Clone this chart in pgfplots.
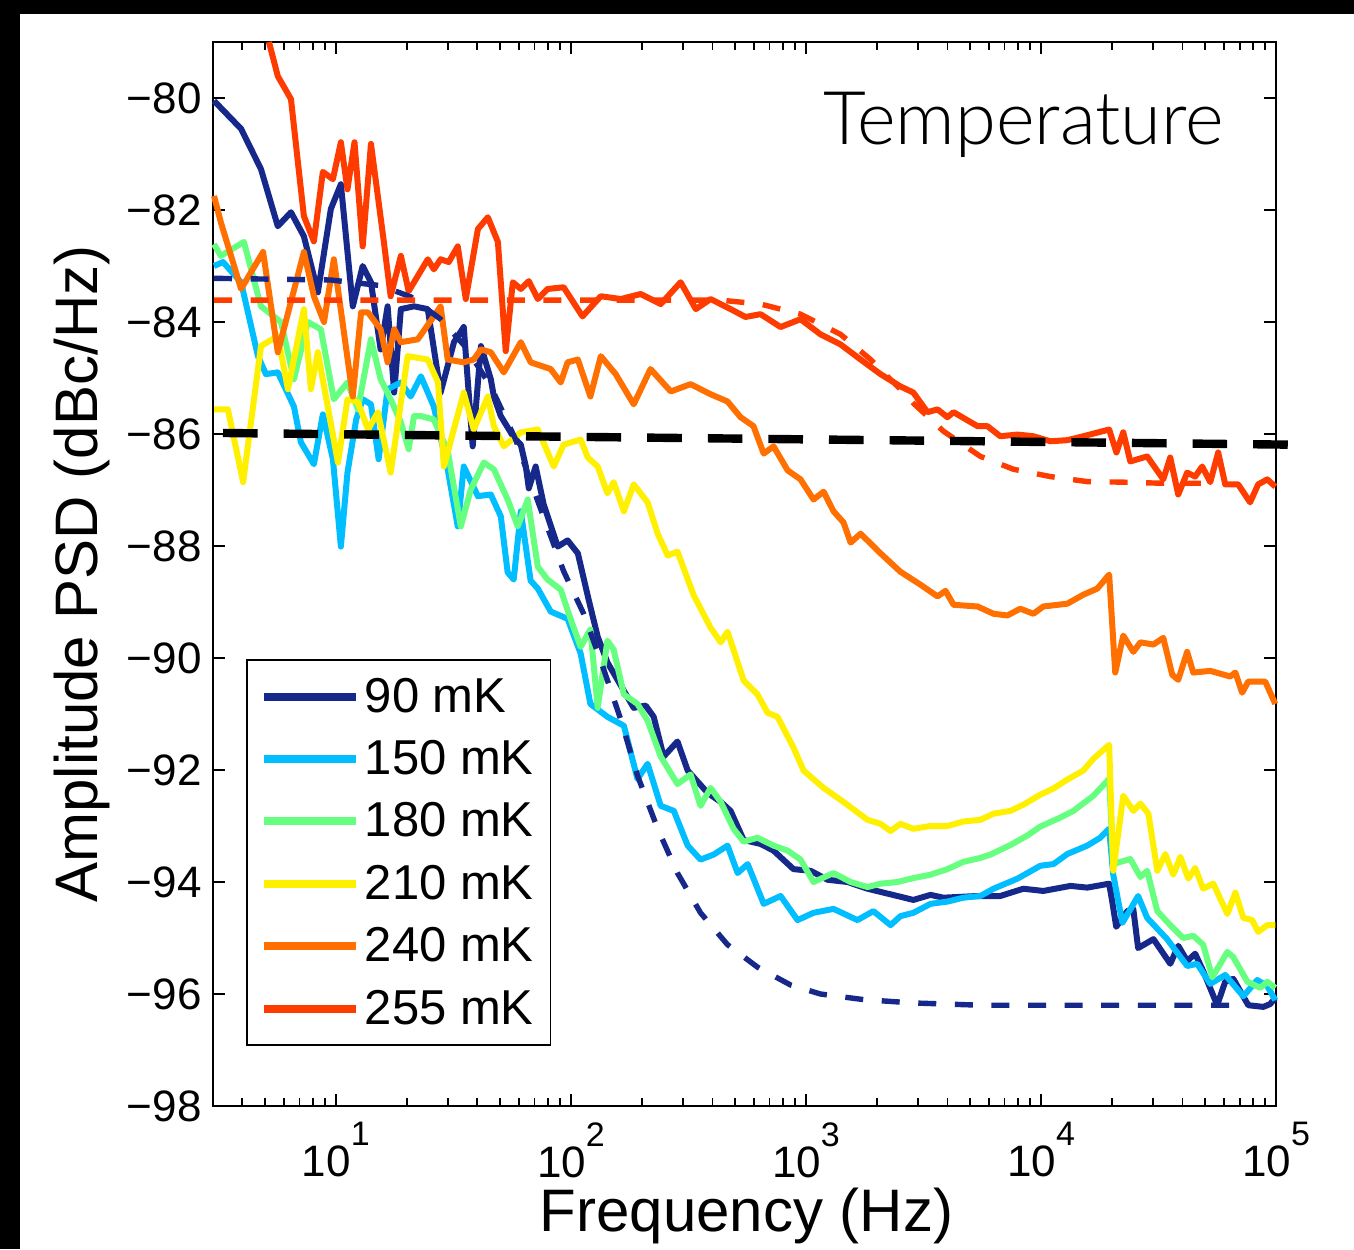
\documentclass[border=0pt]{standalone}
\usepackage{pgfplots}
\pgfplotsset{compat=1.18}
\usepackage{fontspec}
\setmainfont{Liberation Sans}
\IfFontExistsTF{Lato Light}{\newfontfamily\latofont{Lato Light}}{\newfontfamily\latofont{Lato}}
\definecolor{cA}{RGB}{22,40,138}
\definecolor{cB}{RGB}{0,190,255}
\definecolor{cC}{RGB}{102,255,128}
\definecolor{cD}{RGB}{255,240,0}
\definecolor{cE}{RGB}{255,112,0}
\definecolor{cF}{RGB}{255,60,0}
\begin{document}
\begin{tikzpicture}
\useasboundingbox (0,0) rectangle (677pt,624.5pt);
\fill[black] (0,0) rectangle (677pt,624.5pt);
\fill[white] (10pt,0) rectangle (677pt,617.5pt);
\begin{axis}[
  at={(106.5pt,71.5pt)}, anchor=south west,
  scale only axis, width=531.5pt, height=532pt,
  xmode=log, xmin=3, xmax=100000, ymin=-98, ymax=-79,
  clip=false,
  xtick={10,100,1000,10000,100000},
  minor xtick={4,5,6,7,8,9,20,30,40,50,60,70,80,90,200,300,400,500,600,700,800,900,2000,3000,4000,5000,6000,7000,8000,9000,20000,30000,40000,50000,60000,70000,80000,90000},
  xticklabels={10\raisebox{15.5pt}{\fontsize{17}{17}\selectfont 1},10\raisebox{15.5pt}{\fontsize{17}{17}\selectfont 2},10\raisebox{15.5pt}{\fontsize{17}{17}\selectfont 3},10\raisebox{15.5pt}{\fontsize{17}{17}\selectfont 4},10\raisebox{15.5pt}{\fontsize{17}{17}\selectfont 5}},
  ytick={-98,-96,-94,-92,-90,-88,-86,-84,-82,-80},
  yticklabels={−98,−96,−94,−92,−90,−88,−86,−84,−82,−80},
  tick align=inside,
  major tick length=6pt, minor tick length=4pt,
  every tick/.style={black, line width=0.9pt},
  axis line style={line width=1pt},
  tick label style={font=\fontsize{22}{26}\selectfont},
  xticklabel style={inner sep=0pt, anchor=north, yshift=-8pt},
  yticklabel style={inner sep=0pt, anchor=east, xshift=-5.5pt},
  label style={font=\fontsize{30}{36}\selectfont},
  xlabel={Frequency (Hz)},
  ylabel={Amplitude PSD (dBc/Hz)},
  xlabel style={at={(axis description cs:0.502,-0.1184)}, anchor=base, inner sep=0pt},
  ylabel style={at={(axis description cs:-0.109,0.5)}, anchor=base, inner sep=0pt},
  legend style={at={(axis description cs:0.031,0.0564)}, anchor=south west, draw=black, line width=0.8pt, fill=white,
    inner xsep=6.5pt, inner ysep=7pt, font=\fontsize{24.5}{29}\selectfont, row sep=8.6pt,
    nodes={inner sep=2pt}, /tikz/every odd column/.append style={column sep=0.5pt}},
  legend cell align=left,
  legend image code/.code={\draw[#1, line width=4pt] (0pt,0pt) -- (46pt,0pt);},
  every axis plot/.append style={line join=round},
]
\addplot[cA, line width=3pt] coordinates {(3.03,-80.05) (3.95,-80.55) (4.80,-81.27) (5.66,-82.29) (6.44,-82.04) (7.31,-82.47) (8.38,-83.47) (9.52,-81.98) (10.5,-81.54) (11.8,-83.72) (13.0,-83.00) (14.1,-83.29) (15.5,-84.49) (16.6,-83.72) (17.7,-85.26) (18.9,-83.77) (21.5,-83.72) (24.6,-83.77) (27.9,-85.26) (31.8,-84.36) (35.0,-84.09) (38.2,-86.22) (41.4,-84.43) (45.6,-85.02) (47.0,-85.33) (50.3,-85.68) (57.1,-86.06) (61.2,-86.19) (64.3,-86.58) (66.2,-86.97) (70.8,-86.58) (76.6,-87.26) (87.9,-88.01) (96.8,-87.90) (107,-88.13) (119,-88.96) (130,-89.62) (143,-90.08) (163,-90.49) (185,-90.89) (208,-90.85) (225,-91.05) (248,-91.76) (284,-91.49) (314,-92.01) (382,-92.41) (434,-92.57) (478,-92.73) (543,-93.25) (641,-93.32) (728,-93.44) (885,-93.77) (1047,-93.80) (1236,-93.96) (1503,-94.00) (1828,-94.12) (2449,-94.25) (2864,-94.32) (3388,-94.23) (3846,-94.28) (5370,-94.25) (6714,-94.25) (8414,-94.12) (10230,-94.16) (13340,-94.07) (15740,-94.10) (19500,-94.03) (20100,-94.35) (20900,-94.80) (23300,-94.52) (24700,-94.48) (25900,-95.18) (30100,-95.02) (35500,-95.46) (38400,-95.14) (41900,-95.41) (45300,-95.28) (49000,-95.59) (56200,-96.20) (60800,-95.78) (65800,-95.73) (76200,-96.20) (88300,-96.23) (94400,-96.18) (99300,-96.07)};
\addplot[cB, line width=3pt] coordinates {(3.03,-83.00) (3.31,-82.93) (3.95,-83.29) (4.66,-84.61) (5.04,-84.93) (5.66,-84.90) (6.63,-85.51) (7.10,-86.15) (8.06,-86.54) (8.80,-85.65) (9.71,-86.45) (10.5,-88.01) (11.2,-86.69) (12.2,-85.74) (13.0,-85.38) (14.1,-85.47) (15.2,-86.45) (16.6,-85.20) (18.9,-85.08) (20.8,-85.33) (23.0,-84.97) (26.1,-85.51) (29.9,-86.63) (33.0,-87.65) (35.0,-86.58) (40.2,-87.11) (45.6,-87.08) (50.3,-87.47) (53.8,-88.47) (57.1,-88.60) (61.2,-87.38) (67.4,-88.62) (72.3,-88.76) (82.0,-89.17) (96.8,-89.30) (110,-89.92) (121,-90.82) (143,-91.05) (168,-91.21) (192,-92.16) (212,-91.89) (241,-92.64) (274,-92.73) (314,-93.35) (356,-93.60) (405,-93.51) (464,-93.35) (512,-93.84) (565,-93.68) (661,-94.39) (780,-94.25) (921,-94.68) (1077,-94.55) (1310,-94.48) (1656,-94.68) (1936,-94.52) (2291,-94.77) (2523,-94.61) (2864,-94.55) (3388,-94.39) (3999,-94.35) (4677,-94.28) (5521,-94.25) (6281,-94.12) (7943,-93.94) (9938,-93.71) (11300,-93.68) (12950,-93.50) (15740,-93.35) (17870,-93.21) (19500,-93.05) (20300,-93.87) (22200,-94.73) (25900,-94.25) (28300,-94.64) (34400,-95.02) (41900,-95.50) (46200,-95.46) (52500,-95.82) (60800,-95.66) (72600,-96.04) (83200,-95.75) (91800,-95.86) (99300,-96.11)};
\addplot[cC, line width=3pt] coordinates {(3.03,-82.61) (3.24,-82.82) (4.06,-82.57) (4.80,-83.72) (5.84,-84.00) (6.63,-85.02) (7.60,-84.00) (8.63,-84.13) (9.80,-85.38) (11.2,-85.08) (12.4,-85.56) (14.1,-84.31) (15.5,-85.02) (17.1,-85.38) (18.9,-85.79) (20.4,-86.27) (21.5,-85.68) (23.0,-85.68) (26.1,-85.74) (29.9,-86.30) (34.0,-87.65) (37.5,-86.99) (42.6,-86.51) (47.0,-86.63) (53.8,-87.17) (59.4,-87.65) (65.5,-87.17) (72.3,-88.37) (79.6,-88.60) (90.5,-88.78) (99.8,-89.31) (110,-89.80) (121,-89.49) (130,-90.89) (143,-89.69) (152,-89.85) (168,-90.65) (192,-90.82) (212,-91.12) (241,-91.76) (284,-92.25) (323,-92.08) (356,-92.64) (393,-92.32) (434,-92.57) (492,-93.05) (543,-93.28) (622,-93.21) (728,-93.35) (836,-93.44) (948,-93.60) (1077,-94.00) (1310,-93.84) (1549,-94.00) (1828,-94.09) (2075,-94.03) (2449,-94.00) (2864,-93.93) (3388,-93.87) (3999,-93.77) (4677,-93.64) (5521,-93.57) (6095,-93.51) (7413,-93.34) (8750,-93.17) (9938,-93.01) (12080,-92.85) (13740,-92.73) (16710,-92.46) (19500,-92.16) (20300,-93.68) (21780,-93.64) (23990,-93.59) (26490,-93.91) (28300,-93.80) (31260,-94.52) (35480,-94.77) (40270,-95.00) (44450,-94.96) (48980,-95.12) (53580,-95.70) (62090,-95.25) (65770,-95.34) (75510,-95.78) (85740,-95.89) (91800,-95.78) (99300,-95.89)};
\addplot[cD, line width=3pt] coordinates {(3.03,-85.56) (3.47,-85.56) (4.03,-86.86) (4.80,-84.43) (5.66,-84.25) (6.25,-85.20) (7.31,-83.77) (7.83,-85.20) (8.38,-84.54) (10.2,-86.51) (11.2,-85.38) (12.4,-85.43) (13.7,-85.92) (15.1,-85.61) (17.1,-86.69) (20.2,-84.61) (24.6,-84.67) (27.2,-85.08) (28.8,-86.58) (35.0,-85.26) (38.6,-85.92) (44.3,-85.33) (47.0,-85.86) (51.8,-86.22) (61.2,-85.97) (72.3,-85.92) (84.5,-86.58) (93.1,-86.19) (110,-86.10) (118,-86.42) (130,-86.58) (143,-87.06) (152,-86.86) (168,-87.38) (185,-86.90) (212,-87.22) (234,-87.78) (258,-88.17) (284,-88.10) (333,-88.88) (393,-89.46) (434,-89.72) (464,-89.53) (543,-90.40) (622,-90.65) (687,-90.98) (757,-91.05) (885,-91.60) (977,-92.01) (1189,-92.32) (1445,-92.57) (1828,-92.89) (2075,-92.96) (2291,-93.09) (2523,-92.96) (2864,-93.05) (3388,-93.00) (3999,-93.00) (4677,-92.92) (5521,-92.89) (6281,-92.78) (7413,-92.73) (8414,-92.62) (9938,-92.44) (11300,-92.33) (12950,-92.17) (15140,-92.01) (16710,-91.80) (19500,-91.55) (20300,-93.80) (22390,-92.46) (24720,-92.73) (26490,-92.60) (28640,-92.78) (31260,-93.80) (33810,-93.50) (36560,-93.87) (39170,-93.55) (42360,-93.94) (45290,-93.75) (48980,-94.12) (54080,-94.03) (62090,-94.57) (67140,-94.19) (72600,-94.64) (79250,-94.68) (83950,-94.89) (91800,-94.77) (99300,-94.77)};
\addplot[cE, line width=3pt] coordinates {(3.03,-81.75) (3.24,-82.22) (3.95,-83.41) (4.90,-82.75) (5.66,-84.54) (7.31,-82.75) (8.06,-83.54) (8.90,-84.00) (9.80,-82.88) (11.8,-85.33) (12.8,-83.83) (13.7,-83.83) (15.5,-84.13) (16.6,-84.72) (17.7,-84.13) (18.9,-84.36) (22.3,-84.31) (26.1,-83.90) (27.9,-83.72) (29.9,-84.67) (35.0,-84.72) (38.6,-84.67) (41.4,-84.49) (45.6,-84.54) (51.8,-84.90) (61.2,-84.36) (67.4,-84.72) (82.0,-84.84) (90.5,-85.08) (96.8,-84.72) (107,-84.67) (121,-85.33) (134,-84.61) (155,-84.93) (185,-85.47) (218,-84.84) (266,-85.24) (323,-85.11) (393,-85.29) (464,-85.42) (527,-85.70) (598,-85.86) (661,-86.35) (728,-86.22) (836,-86.65) (948,-86.81) (1077,-87.17) (1189,-87.03) (1310,-87.38) (1445,-87.58) (1549,-87.94) (1708,-87.78) (2075,-88.13) (2523,-88.46) (3069,-88.69) (3630,-88.90) (3926,-88.80) (4246,-89.05) (5370,-89.08) (6281,-89.21) (7194,-89.24) (8166,-89.12) (9284,-89.21) (10230,-89.08) (12950,-89.03) (15140,-88.87) (17380,-88.76) (19500,-88.51) (20700,-90.26) (22390,-89.60) (24720,-89.89) (26490,-89.72) (30060,-89.76) (33140,-89.64) (36180,-90.30) (38370,-90.39) (41880,-89.89) (44450,-90.26) (52500,-90.23) (63830,-90.33) (67140,-90.26) (71780,-90.62) (76210,-90.42) (89950,-90.42) (99300,-90.82)};
\addplot[cF, line width=3pt] coordinates {(5.19,-79.00) (5.66,-79.61) (6.44,-80.02) (6.89,-81.14) (7.31,-82.11) (8.06,-82.56) (8.80,-81.32) (9.71,-81.45) (10.5,-80.79) (11.2,-81.63) (12.0,-80.79) (13.0,-82.65) (14.1,-80.82) (16.0,-82.57) (17.1,-83.54) (18.9,-82.82) (20.4,-83.45) (24.6,-82.88) (26.1,-83.06) (27.9,-82.88) (30.2,-82.93) (33.0,-82.65) (35.7,-83.59) (40.2,-82.34) (44.3,-82.13) (48.9,-82.57) (52.8,-84.52) (56.6,-83.29) (61.2,-83.41) (66.2,-83.27) (72.3,-83.59) (79.6,-83.41) (93.1,-83.38) (112,-83.90) (134,-83.54) (163,-83.59) (198,-83.50) (241,-83.68) (293,-83.29) (340,-83.77) (393,-83.59) (478,-83.77) (553,-83.91) (641,-83.86) (780,-84.09) (948,-83.95) (1153,-84.22) (1403,-84.40) (1708,-84.67) (2075,-84.93) (2523,-85.15) (2864,-85.26) (3289,-85.61) (3630,-85.56) (3999,-85.70) (4246,-85.61) (5370,-85.86) (5916,-85.86) (6714,-86.04) (7943,-86.01) (9284,-86.04) (10960,-86.13) (12950,-86.11) (15140,-86.04) (19500,-85.92) (20940,-86.33) (22390,-85.97) (23990,-86.49) (28300,-86.40) (33140,-86.81) (35480,-86.42) (38370,-87.08) (41880,-86.69) (45290,-86.76) (48530,-86.58) (52500,-86.86) (56750,-86.33) (60810,-86.90) (69020,-86.90) (77620,-87.22) (83950,-86.90) (91800,-86.81) (99300,-86.94)};
\addplot[cA, line width=2.7pt, dash pattern=on 9pt off 9.3pt, forget plot] coordinates {(3.03,-83.22) (9.52,-83.25) (15.5,-83.35) (20.8,-83.55) (27.9,-83.95) (35.7,-84.45) (45.6,-85.15) (58.2,-86.10) (72.3,-87.20) (93.1,-88.45) (113,-89.20) (134,-90.05) (163,-91.10) (192,-92.10) (234,-93.05) (284,-93.84) (356,-94.55) (464,-95.12) (622,-95.52) (861,-95.84) (1153,-96.00) (1758,-96.10) (2864,-96.16) (5521,-96.20) (63830,-96.20)};
\addplot[cF, line width=2.7pt, dash pattern=on 9pt off 9.3pt, forget plot] coordinates {(3.03,-83.61) (434,-83.61) (641,-83.68) (948,-83.86) (1403,-84.22) (1884,-84.67) (2523,-85.20) (2864,-85.45) (3846,-85.95) (5521,-86.40) (7638,-86.63) (10960,-86.76) (15740,-86.85) (22390,-86.86) (33140,-86.88) (50000,-86.88)};
\addplot[black, line width=4.2pt, dash pattern=on 17.3pt off 13pt, dash phase=25.8pt, forget plot] coordinates {(3.03,-85.98) (113000,-86.19)};
\legend{90 mK,150 mK,180 mK,210 mK,240 mK,255 mK}
\node[anchor=base west, inner sep=0pt, font=\latofont\fontsize{37}{37}\selectfont] at (axis description cs:0.5738,0.9032) {Temperature};
\end{axis}
\end{tikzpicture}
\end{document}
